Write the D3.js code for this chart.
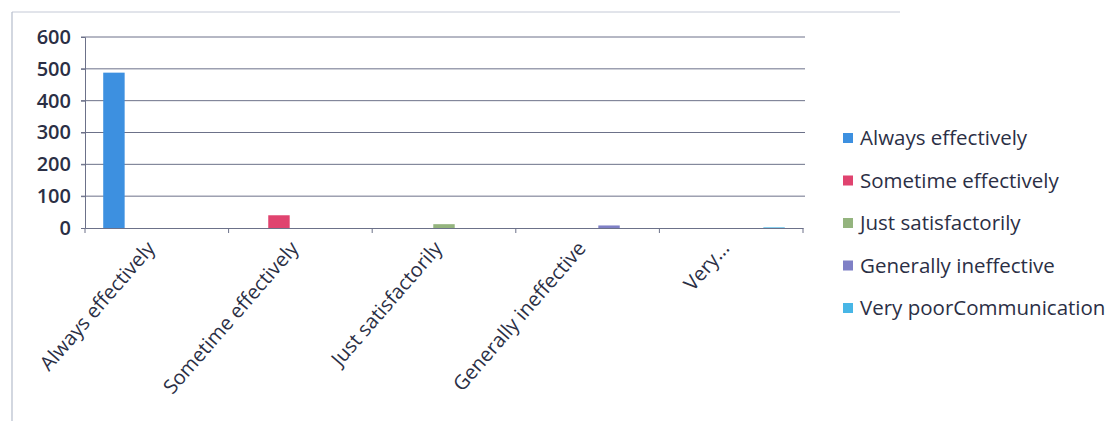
<!DOCTYPE html>
<html>
<head>
<meta charset="utf-8">
<script src="https://cdn.jsdelivr.net/npm/d3@7"></script>
<style>
  html, body { margin: 0; padding: 0; background: #ffffff; }
  svg { display: block; }
</style>
</head>
<body>
<svg id="chart" width="1113" height="421"></svg>
<script>
// ---- data ----
const categories = ["Always effectively", "Sometime effectively", "Just satisfactorily", "Generally ineffective", "Very poorCommunication"];
const categoryLabels = ["Always effectively", "Sometime effectively", "Just satisfactorily", "Generally ineffective", "Very..."];
const seriesNames = ["Always effectively", "Sometime effectively", "Just satisfactorily", "Generally ineffective", "Very poorCommunication"];
const seriesValues = [488, 40, 12, 8, 2];   // each series has a value only in its own category
const yTicks = [0, 100, 200, 300, 400, 500, 600];
const seriesColors = ["#3d90e0", "#e0436f", "#94b47e", "#7f80c6", "#48b6e6"];

// ---- layout ----
const svg = d3.select("#chart");
const plot = { left: 85, right: 803, top: 37, bottom: 228 };
const textColor = "#2b2f45";
const font = "'Open Sans', 'Liberation Sans', sans-serif";

// chart area border (top + left)
svg.append("line").attr("x1", 12).attr("x2", 900).attr("y1", 12).attr("y2", 12)
  .attr("stroke", "#c4c9d6").attr("stroke-width", 1);
svg.append("line").attr("x1", 12).attr("x2", 12).attr("y1", 12).attr("y2", 421)
  .attr("stroke", "#b5bccb").attr("stroke-width", 1.2);

const x0 = d3.scaleBand().domain(categories).range([plot.left, plot.right]).padding(0);
const x1 = d3.scaleBand().domain(seriesNames).range([0, x0.bandwidth()]).paddingInner(0).paddingOuter(0.85);
const y = d3.scaleLinear().domain([0, 600]).range([plot.bottom, plot.top]);

// gridlines
svg.append("g").selectAll("line").data(yTicks.filter(t => t > 0)).join("line")
  .attr("x1", plot.left - 4).attr("x2", plot.right + 2)
  .attr("y1", d => y(d)).attr("y2", d => y(d))
  .attr("stroke", "#6c7189").attr("stroke-width", 1);

// y axis
const yAxis = svg.append("g").attr("transform", `translate(${plot.left},0)`)
  .call(d3.axisLeft(y).tickValues(yTicks).tickSize(4).tickPadding(10));
yAxis.select(".domain").attr("stroke", "#6c7189");
yAxis.selectAll(".tick line").attr("stroke", "#6c7189");
yAxis.selectAll("text").attr("font-family", font).attr("font-size", 20).attr("font-weight", 600)
  .attr("fill", textColor);

// bars
const data = seriesNames.map((s, i) => ({ series: s, category: categories[i], value: seriesValues[i], color: seriesColors[i] }));
svg.append("g").selectAll("rect").data(data).join("rect")
  .attr("x", d => x0(d.category) + x1(d.series))
  .attr("width", x1.bandwidth())
  .attr("y", d => y(d.value))
  .attr("height", d => y(0) - y(d.value))
  .attr("fill", d => d.color);

// x axis
const xAxis = svg.append("g").attr("transform", `translate(0,${plot.bottom})`)
  .call(d3.axisBottom(x0).tickSize(0).tickFormat((d, i) => categoryLabels[i]));
xAxis.select(".domain").attr("stroke", "#6c7189");
// boundary ticks
svg.append("g").selectAll("line").data(d3.range(categories.length + 1)).join("line")
  .attr("x1", i => plot.left + i * x0.step()).attr("x2", i => plot.left + i * x0.step())
  .attr("y1", plot.bottom).attr("y2", plot.bottom + 5)
  .attr("stroke", "#6c7189");
xAxis.selectAll("text")
  .attr("font-family", font).attr("font-size", 20).attr("fill", textColor)
  .attr("text-anchor", "end")
  .attr("dy", "0")
  .attr("transform", "translate(-3,19) rotate(-49)");

// legend
const legend = svg.append("g").attr("transform", "translate(843,138)");
const items = legend.selectAll("g").data(data).join("g")
  .attr("transform", (d, i) => `translate(0,${i * 42.5})`);
items.append("rect").attr("x", 0).attr("y", -5).attr("width", 10).attr("height", 10).attr("fill", d => d.color);
items.append("text").attr("x", 17).attr("y", 0).attr("dy", "0.35em")
  .attr("font-family", font).attr("font-size", 20.5).attr("fill", textColor)
  .text(d => d.series);
</script>
</body>
</html>
